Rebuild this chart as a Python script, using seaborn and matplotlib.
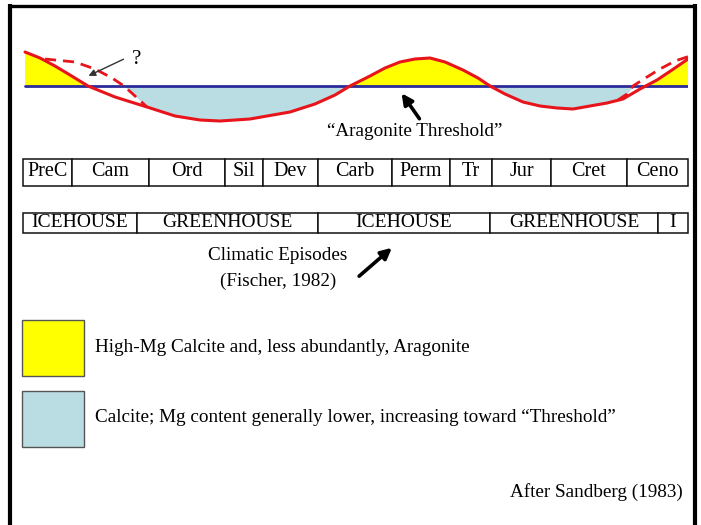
"""Sandberg (1983) aragonite / calcite sea oscillation diagram."""
import matplotlib

matplotlib.use("Agg")
import matplotlib.pyplot as plt
import numpy as np
import seaborn as sns

# ---- data (timeline units along the strip, level relative to the threshold) ----
red_t = [2, 17, 32, 47, 65, 92, 124, 152, 177, 197, 227, 267, 292, 312, 327,
         347, 362, 377, 392, 407, 422, 440, 455, 467, 482, 500, 517, 534, 550,
         567, 584, 600, 617, 634, 649, 665]
red_level = [34, 28, 20, 11, 0, -11, -21, -30, -34, -35, -33, -26, -18, -9, 0,
             10, 18, 24, 27, 28, 24, 16, 8, 0, -8, -16, -20, -22, -23,
             -20, -17, -13, -3, 6, 16, 27]

alt_left_t = [22, 52, 72, 89, 101, 112, 124]
alt_left_level = [27, 24, 17, 8, 0, -10, -21]
alt_right_t = [595, 604, 610, 624, 637, 652, 667, 672]
alt_right_level = [-14, -8, 0, 9, 17, 25, 30, 31]

threshold_t = [2, 665]

periods = ["PreC", "Cam", "Ord", "Sil", "Dev", "Carb", "Perm", "Tr", "Jur", "Cret", "Ceno"]
period_edges = [0, 49, 126, 202, 240, 295, 369, 427, 469, 528, 604, 665]

climates = ["ICEHOUSE", "GREENHOUSE", "ICEHOUSE", "GREENHOUSE", "I"]
climate_edges = [0, 114, 295, 467, 635, 665]

legend_labels = [
    "High-Mg Calcite and, less abundantly, Aragonite",
    "Calcite; Mg content generally lower, increasing toward \u201cThreshold\u201d",
]

YELLOW = "#ffff00"
BLUE = "#b9dde3"
RED = "#e8141b"
NAVY = "#2b2b99"

sns.set_style("white")
plt.rcParams["font.family"] = ["Liberation Serif", "DejaVu Serif"]
plt.rcParams["text.color"] = "black"

W, H = 701, 525
fig = plt.figure(figsize=(W / 100, H / 100), dpi=100)


def px_axes(x0, y0, x1, y1):
    return fig.add_axes([x0 / W, 1 - y1 / H, (x1 - x0) / W, (y1 - y0) / H])


# ---- curve panel ----
ax = px_axes(23, 36, 688, 136)
ax.set_xlim(0, 665)
ax.set_ylim(-50, 50)
ax.axis("off")

rt = np.array(red_t, dtype=float)
rl = np.array(red_level, dtype=float)
ax.fill_between(rt, rl, 0, where=rl >= 0, interpolate=True, color=YELLOW, lw=0)

# calcite field: below threshold, bounded by the alternative (dashed) curve
lt = np.array(alt_left_t, dtype=float)
ll = np.array(alt_left_level, dtype=float)
m = (rt > lt[-1]) & (rt <= 327)
bt = np.concatenate([lt[ll <= 0], rt[m]])
bl = np.concatenate([ll[ll <= 0], rl[m]])
ax.fill_between(bt, bl, 0, color=BLUE, lw=0)

qt = np.array(alt_right_t, dtype=float)
ql = np.array(alt_right_level, dtype=float)
m = (rt >= 467) & (rt < qt[0])
bt = np.concatenate([rt[m], qt[ql <= 0]])
bl = np.concatenate([rl[m], ql[ql <= 0]])
ax.fill_between(bt, bl, 0, color=BLUE, lw=0)

sns.lineplot(x=threshold_t, y=[0, 0], ax=ax, color=NAVY, lw=2.0, errorbar=None)
sns.lineplot(x=red_t, y=red_level, ax=ax, color=RED, lw=2.2, errorbar=None)
for t, lv in ((alt_left_t, alt_left_level), (alt_right_t, alt_right_level)):
    ax.plot(t, lv, color=RED, lw=2.0, dashes=(4, 2.5), clip_on=False)

# ---- period / climate strips ----
for (y0, y1), names, edges, fs in (((159, 186), periods, period_edges, 14.5),
                                    ((213, 233), climates, climate_edges, 14)):
    sax = px_axes(23, y0, 688, y1)
    sax.set_xlim(0, 665)
    sax.set_ylim(-0.5, 0.5)
    sax.axis("off")
    edges = np.array(edges, dtype=float)
    widths = np.diff(edges)
    sax.barh(0, widths, left=edges[:-1], height=1.0, color="white",
             edgecolor="#111111", lw=1.1, clip_on=False)
    for name, a, w in zip(names, edges[:-1], widths):
        sax.text(a + w / 2, 0.02, name, ha="center", va="center", fontsize=fs)

# ---- overlay: annotations, legend, frame ----
ov = fig.add_axes([0, 0, 1, 1])
ov.set_xlim(0, W)
ov.set_ylim(H, 0)
ov.axis("off")
ov.patch.set_alpha(0)

ov.text(137, 59, "?", ha="center", va="center", fontsize=15)
ov.annotate("", xy=(86, 77), xytext=(126, 58),
            arrowprops=dict(arrowstyle="-|>", color="#333333", lw=1.0,
                            mutation_scale=10))
ov.annotate("", xy=(400, 91), xytext=(421, 121),
            arrowprops=dict(arrowstyle="-|>", color="black", lw=2.6,
                            mutation_scale=16))
ov.text(415, 131, "\u201cAragonite Threshold\u201d", ha="center", va="center", fontsize=13.8)

ov.text(278, 256, "Climatic Episodes", ha="center", va="center", fontsize=13.8)
ov.text(278, 281, "(Fischer, 1982)", ha="center", va="center", fontsize=13.8)
ov.annotate("", xy=(394, 246), xytext=(357, 278),
            arrowprops=dict(arrowstyle="-|>", color="black", lw=2.6,
                            mutation_scale=16))

for (y0, y1), color, label in zip(((320, 376), (391, 447)), (YELLOW, BLUE), legend_labels):
    ov.add_patch(plt.Rectangle((22, y0), 62, y1 - y0, facecolor=color,
                               edgecolor="#555555", lw=1.0))
    ov.text(95, (y0 + y1) / 2 - 1, label, ha="left", va="center", fontsize=13.8)

ov.text(683, 492, "After Sandberg (1983)", ha="right", va="center", fontsize=13.8)

ov.plot([10, 10], [4, H], color="black", lw=3, solid_capstyle="butt")
ov.plot([694.5, 694.5], [4, H], color="black", lw=3, solid_capstyle="butt")
ov.plot([8, 696], [5.5, 5.5], color="black", lw=2.4, solid_capstyle="butt")

fig.savefig("out.png", dpi=100)
plt.close(fig)
